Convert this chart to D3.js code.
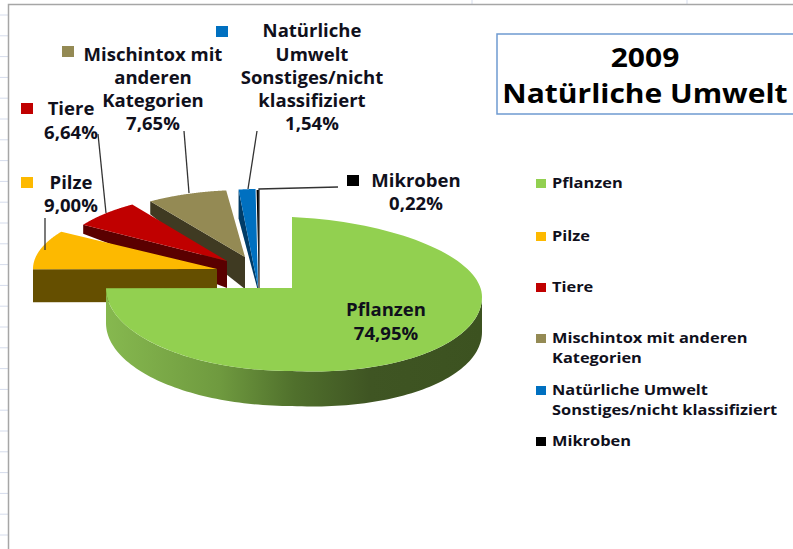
<!DOCTYPE html>
<html><head><meta charset="utf-8">
<script src="https://cdn.jsdelivr.net/npm/d3@7"></script>
<style>html,body{margin:0;padding:0;background:#fff}svg{display:block}text{font-family:"Open Sans",sans-serif;fill:#10101c}</style>
</head><body><svg width="793" height="549"></svg>
<script>
const categories = ["Pflanzen","Pilze","Tiere","Mischintox mit anderen Kategorien","Natürliche Umwelt Sonstiges/nicht klassifiziert","Mikroben"];
const shares = [74.95,9.00,6.64,7.65,1.54,0.22];
const percentLabels = ["74,95%","9,00%","6,64%","7,65%","1,54%","0,22%"];
const topColors = ["#92d050","#fdb900","#c00000","#948a54","#0070c0","#000000"];
const sideColors = ["#3f5523","#654f00","#5a0000","#3f3a22","#003c68","#000000"];
const legendLines = [["Pflanzen"],["Pilze"],["Tiere"],["Mischintox mit anderen","Kategorien"],["Natürliche Umwelt","Sonstiges/nicht klassifiziert"],["Mikroben"]];
const titleLines = ["2009","Natürliche Umwelt"];

// layout of each wedge: apex position, radii, thickness at outer rim and apex
const legendY = [183,236,287,338,390,441];
const apex = [[292,288],[217,269],[227,261],[245,257],[258,287],[259,288]];
const radiusX = [186,184,170,170,176,176];
const radiusYBack = [71,70,68,67,98,98];
const rimDepth = [0,33,9,13,29,0];
const apexDepth = [0,33,27,32,4,0];
const drawOrder = [5,4,3,2,1,0];
const frontRy = 83, mainRightRx = 190, mainRightDrop = 9, mainDepth = 35;

const svg = d3.select("svg");
// worksheet behind the chart
svg.append("g").selectAll("line").data(d3.range(15,549,20.8)).join("line")
  .attr("x1",0).attr("x2",8).attr("y1",d=>d).attr("y2",d=>d).attr("stroke","#d5dcec");
svg.append("g").selectAll("line").data([472,687]).join("line")
  .attr("x1",d=>d).attr("x2",d=>d).attr("y1",0).attr("y2",4).attr("stroke","#d5dcec");
svg.append("path").attr("d","M8.5,549V4.5H793").attr("fill","none").attr("stroke","#a6a6a6").attr("stroke-width",1.5);

const arcs = d3.pie().sort(null).value(d=>d)(shares);
function project(i,theta){
  const s=Math.sin(theta),c=Math.cos(theta);
  const ry = c>=0 ? radiusYBack[i] : frontRy;
  const rx = (i===0 && s>0) ? mainRightRx : radiusX[i];
  const drop = (i===0 && s>0) ? mainRightDrop*s : 0;
  return [apex[i][0]+rx*s, apex[i][1]-ry*c+drop];
}
const arcPoints=(i,a0,a1)=>d3.range(0,121).map(k=>project(i,a0+(a1-a0)*k/120));
const line = d3.line();
const grad = svg.append("defs").append("linearGradient").attr("id","wall").attr("gradientUnits","userSpaceOnUse")
  .attr("x1",107).attr("x2",482).attr("y1",0).attr("y2",0);
[[0,"#86b84f"],[.3,"#6f9a3f"],[.5,"#50702c"],[.7,"#3f5523"],[1,"#3c5220"]].forEach(([o,c])=>grad.append("stop").attr("offset",o).attr("stop-color",c));

const marks = svg.append("g");
drawOrder.forEach(i=>{
  const a=arcs[i], g=marks.append("g");
  if(i===0){
    const rim=arcPoints(0,Math.PI/2,Math.PI*1.5);
    const low=rim.map(p=>[p[0],p[1]+mainDepth]).reverse();
    g.append("path").attr("d",line(rim.concat(low))+"Z").attr("fill","url(#wall)");
  } else if(rimDepth[i]>0){
    const o=project(i,a.startAngle);
    g.append("path").attr("d",line([o,apex[i],[apex[i][0],apex[i][1]+apexDepth[i]],[o[0],o[1]+rimDepth[i]]])+"Z").attr("fill",sideColors[i]);
  }
  g.append("path").attr("d",line([apex[i]].concat(arcPoints(i,a.startAngle,a.endAngle)))+"Z").attr("fill",topColors[i]);
});

// leader lines
const leaders=[[[45,218],[45,250]],[[98,134],[106,213]],[[184,131],[189,193]],[[257,131],[248,189]],[[338,187],[259,189],[259,288]]];
svg.append("g").selectAll("path").data(leaders).join("path")
  .attr("d",line).attr("fill","none").attr("stroke","#333").attr("stroke-width",1.3);

// widen a text to the stretched look of the picture
function stretch(sel,f){
  sel.each(function(){
    this.setAttribute("textLength",this.getComputedTextLength()*f);
    this.setAttribute("lengthAdjust","spacingAndGlyphs");
  });
}

// data labels
const labels=[
 {i:0,lines:["Pflanzen",percentLabels[0]],x:386,y:[316,340]},
 {i:1,lines:["Pilze",percentLabels[1]],x:71,y:[189,212],box:[21,177]},
 {i:2,lines:["Tiere",percentLabels[2]],x:71,y:[115,139],box:[21,103]},
 {i:3,lines:["Mischintox mit","anderen","Kategorien",percentLabels[3]],x:153,y:[61,84,107,130],box:[62,46]},
 {i:4,lines:["Natürliche","Umwelt","Sonstiges/nicht","klassifiziert",percentLabels[4]],x:312,y:[37,61,84,107,130],box:[216,26]},
 {i:5,lines:["Mikroben",percentLabels[5]],x:416,y:[187,210],box:[347,175]}
];
labels.forEach(l=>{
  l.lines.forEach((t,k)=>svg.append("text").attr("class","lab").attr("x",l.x).attr("y",l.y[k]).attr("text-anchor","middle")
    .attr("font-size",17).attr("font-weight",700).text(t));
  if(l.box) svg.append("rect").attr("x",l.box[0]).attr("y",l.box[1]).attr("width",12).attr("height",11).attr("fill",topColors[l.i]);
});
stretch(svg.selectAll("text.lab"),1.09);

// legend
const legend=svg.append("g").selectAll("g").data(categories).join("g");
legend.append("rect").attr("x",536).attr("y",(d,i)=>legendY[i]-4).attr("width",10).attr("height",9).attr("fill",(d,i)=>topColors[i]);
legend.each(function(d,i){
  legendLines[i].forEach((t,k)=>d3.select(this).append("text").attr("class","leg").attr("x",552).attr("y",legendY[i]+5+k*20)
    .attr("font-size",14).attr("font-weight",700).text(t));
});
stretch(svg.selectAll("text.leg"),1.17);

// title
svg.append("path").attr("d","M793,34H497V114H793").attr("fill","none").attr("stroke","#6f9bd1").attr("stroke-width",1.5);
titleLines.forEach((t,k)=>svg.append("text").attr("class","ttl").attr("x",645).attr("y",[67,103][k]).attr("text-anchor","middle")
  .attr("font-size",27).attr("font-weight",700).attr("style","fill:#000").text(t));
stretch(svg.selectAll("text.ttl"),1.11);
</script></body></html>
